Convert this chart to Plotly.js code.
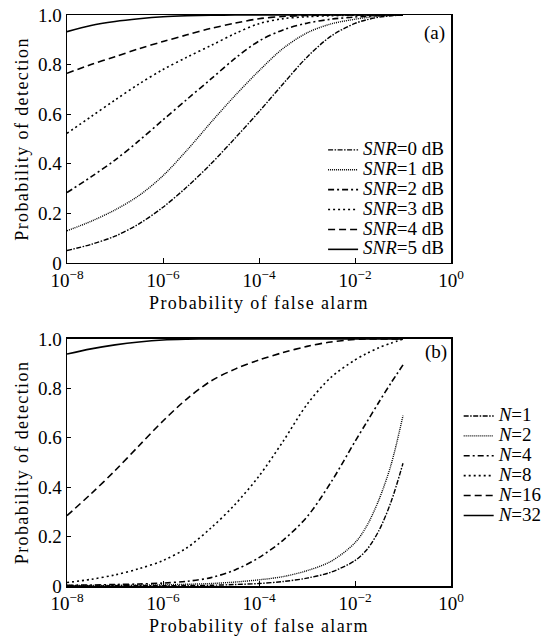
<!DOCTYPE html>
<html>
<head>
<meta charset="utf-8">
<script src="https://cdn.plot.ly/plotly-3.0.1.min.js"></script>
<style>html,body{margin:0;padding:0;background:#fff}#chart{width:560px;height:640px}</style>
</head>
<body>
<div id="chart"></div>
<script>
// log10 of probability of false alarm
const pfaExp = [-8,-7.5,-7,-6.5,-6,-5.5,-5,-4.5,-4,-3.5,-3,-2.5,-2,-1.75,-1.5,-1.25,-1];

// (a) Pd for different SNR
const snrLabels = ["<i>SNR</i>=0 dB","<i>SNR</i>=1 dB","<i>SNR</i>=2 dB","<i>SNR</i>=3 dB","<i>SNR</i>=4 dB","<i>SNR</i>=5 dB"];
const snr0 = [0.05,0.075,0.108,0.158,0.225,0.307,0.40,0.503,0.61,0.722,0.83,0.915,0.966,0.981,0.991,0.997,1.0];
const snr1 = [0.13,0.168,0.214,0.272,0.352,0.455,0.567,0.675,0.775,0.865,0.928,0.964,0.983,0.99,0.995,0.998,1.0];
const snr2 = [0.284,0.347,0.415,0.493,0.577,0.66,0.742,0.825,0.895,0.94,0.967,0.983,0.992,0.995,0.998,0.999,1.0];
const snr3 = [0.523,0.59,0.657,0.722,0.78,0.83,0.877,0.925,0.965,0.985,0.993,0.997,0.999,1,1,1,1];
const snr4 = [0.765,0.80,0.832,0.864,0.893,0.92,0.946,0.967,0.985,0.994,0.998,1,1,1,1,1,1];
const snr5 = [0.933,0.958,0.974,0.985,0.993,0.997,0.999,1,1,1,1,1,1,1,1,1,1];

// (b) Pd for different N
const nLabels = ["<i>N</i>=1","<i>N</i>=2","<i>N</i>=4","<i>N</i>=8","<i>N</i>=16","<i>N</i>=32"];
const n1  = [0.0005,0.0006,0.0008,0.001,0.0013,0.002,0.003,0.006,0.01,0.018,0.032,0.056,0.103,0.148,0.225,0.34,0.497];
const n2  = [0.002,0.002,0.003,0.004,0.005,0.007,0.01,0.016,0.025,0.038,0.062,0.1,0.175,0.245,0.35,0.49,0.69];
const n4  = [0.003,0.004,0.006,0.008,0.012,0.019,0.034,0.065,0.115,0.185,0.28,0.42,0.585,0.665,0.745,0.822,0.895];
const n8  = [0.014,0.027,0.045,0.07,0.103,0.155,0.235,0.33,0.445,0.585,0.735,0.845,0.915,0.942,0.965,0.983,1.0];
const n16 = [0.285,0.373,0.467,0.568,0.668,0.758,0.83,0.878,0.915,0.945,0.97,0.988,0.998,1,1,1,1];
const n32 = [0.939,0.96,0.976,0.988,0.996,0.999,1,1,1,1,1,1,1,1,1,1,1];

const xTickVals = [1e-8,1e-6,1e-4,1e-2,1];
const xTickText = ["10<sup>−8</sup>","10<sup>−6</sup>","10<sup>−4</sup>","10<sup>−2</sup>","10<sup>0</sup>"];
const yTickVals = [0,0.2,0.4,0.6,0.8,1.0];
const yTickText = ["0","0.2","0.4","0.6","0.8","1.0"];

const dashes = ["5px,1.5px,1.5px,1.5px","1px,1px","6px,3px,2px,3px","2px,3px","7px,4px","solid"];
const widths = [1.4,1.4,1.6,1.6,1.6,1.6];

const xs = pfaExp.map(e => Math.pow(10, e));
const serif = "Liberation Serif, Times New Roman, serif";
const big = s => '<span style="font-size:19px">' + s + '</span>';
const spaced = s => '<span style="letter-spacing:1.4px">' + s + '</span>';

const traces = [];
[snr0,snr1,snr2,snr3,snr4,snr5].forEach((ys,i) => {
  traces.push({x: xs, y: ys, type: "scatter", mode: "lines", name: big(snrLabels[i]),
    xaxis: "x", yaxis: "y", legend: "legend",
    line: {color: "#000", width: widths[i], dash: dashes[i], shape: "spline", smoothing: 0.9}});
});
[n1,n2,n4,n8,n16,n32].forEach((ys,i) => {
  traces.push({x: xs, y: ys, type: "scatter", mode: "lines", name: big(nLabels[i]),
    xaxis: "x2", yaxis: "y2", legend: "legend2",
    line: {color: "#000", width: widths[i], dash: dashes[i], shape: "spline", smoothing: 0.9}});
});

function xAxis(anchor) {
  return {type: "log", range: [-8, 0], anchor: anchor, domain: [0,1],
    tickvals: xTickVals, ticktext: xTickText, ticks: "inside", ticklen: 5, tickcolor: "#000",
    showline: true, linecolor: "#000", linewidth: 1.5, mirror: true, showgrid: false, zeroline: false,
    tickfont: {family: serif, size: 19, color: "#000"},
    title: {text: spaced("Probability of false alarm"), font: {family: serif, size: 18, color: "#000"}, standoff: 6}};
}
function yAxis(anchor, domain) {
  return {range: [0, 1], anchor: anchor, domain: domain,
    tickvals: yTickVals, ticktext: yTickText, ticks: "inside", ticklen: 4, tickcolor: "#000",
    showline: true, linecolor: "#000", linewidth: 1.5, mirror: true, showgrid: false, zeroline: false,
    tickfont: {family: serif, size: 19, color: "#000"},
    title: {text: spaced("Probability of detection"), font: {family: serif, size: 18, color: "#000"}, standoff: 4}};
}

const layout = {
  width: 560, height: 640,
  margin: {l: 67, r: 107, t: 15, b: 54},
  paper_bgcolor: "#fff", plot_bgcolor: "#fff",
  font: {family: serif, color: "#000"},
  showlegend: true,
  xaxis: xAxis("y"),
  yaxis: yAxis("x", [0.5657, 1]),
  xaxis2: xAxis("y2"),
  yaxis2: yAxis("x2", [0, 0.4326]),
  legend: {x: 0.995, xanchor: "right", y: 0.79, yanchor: "top",
    bgcolor: "rgba(0,0,0,0)", borderwidth: 0, traceorder: "normal",
    font: {family: serif, size: 13, color: "#000"}, itemwidth: 30},
  legend2: {x: 1.02, xanchor: "left", y: 0.324, yanchor: "top",
    bgcolor: "rgba(0,0,0,0)", borderwidth: 0, traceorder: "normal",
    font: {family: serif, size: 13, color: "#000"}, itemwidth: 30},
  annotations: [
    {text: "(a)", xref: "x domain", yref: "y domain", x: 0.99, y: 0.98, xanchor: "right", yanchor: "top",
     showarrow: false, font: {family: serif, size: 19, color: "#000"}},
    {text: "(b)", xref: "x2 domain", yref: "y2 domain", x: 0.995, y: 1.0, xanchor: "right", yanchor: "top",
     showarrow: false, font: {family: serif, size: 19, color: "#000"}}
  ]
};

Plotly.newPlot("chart", traces, layout, {displayModeBar: false, staticPlot: true});
</script>
</body>
</html>
